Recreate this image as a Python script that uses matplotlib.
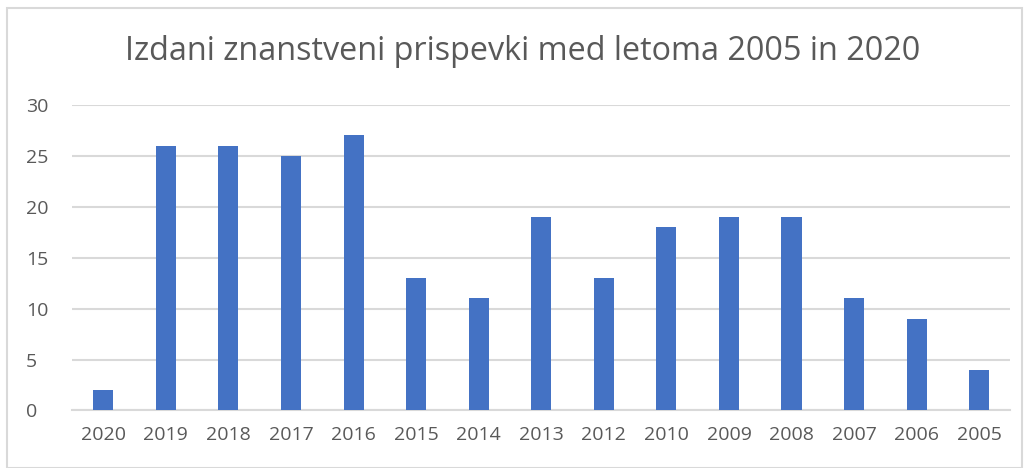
import matplotlib
matplotlib.use("Agg")
import matplotlib.pyplot as plt
from matplotlib.patches import Rectangle

# years as shown on the x axis (2011 is absent in the source)
years = ["2020", "2019", "2018", "2017", "2016", "2015", "2014", "2013",
         "2012", "2010", "2009", "2008", "2007", "2006", "2005"]
papers = [2, 26, 26, 25, 27, 13, 11, 19, 13, 18, 19, 19, 11, 9, 4]

title = "Izdani znanstveni prispevki med letoma 2005 in 2020"
bar_color = "#4472C4"
text_color = "#595959"
grid_color = "#D9D9D9"

plt.rcParams["font.family"] = ["Open Sans", "DejaVu Sans"]

fig = plt.figure(figsize=(10.29, 4.68), dpi=100)
ax = fig.add_axes([0.07, 0.123, 0.912, 0.653])

ax.bar(years, papers, width=0.32, color=bar_color, zorder=3)

ax.set_ylim(0, 30)
ax.set_xlim(-0.5, len(years) - 0.5)
ax.set_yticks(range(0, 31, 5))
ax.yaxis.grid(True, color=grid_color, linewidth=1.5, zorder=0)
for side in ["top", "right", "left"]:
    ax.spines[side].set_visible(False)
ax.spines["bottom"].set_color(grid_color)
ax.spines["bottom"].set_linewidth(1.5)
ax.tick_params(axis="both", length=0, labelsize=14, colors=text_color)
ax.tick_params(axis="x", pad=11)
ax.tick_params(axis="y", pad=33)
for lbl in ax.get_yticklabels():
    lbl.set_horizontalalignment("left")

fig.text(0.508, 0.89, title, ha="center", va="center",
         fontsize=23.3, color=text_color)

fig.patches.append(Rectangle((7 / 1029, 0.0), 1015 / 1029, 1 - 8 / 468,
                             transform=fig.transFigure, fill=False,
                             edgecolor="#D9D9D9", linewidth=1.5))

fig.savefig("out.png", dpi=100)
